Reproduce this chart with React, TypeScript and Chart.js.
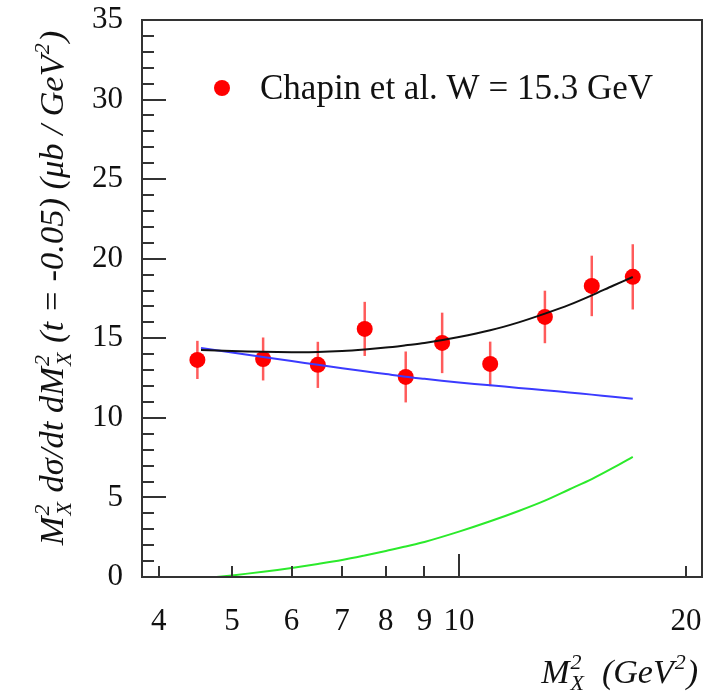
import React, { useEffect, useRef } from 'react';
import { Chart, registerables } from 'chart.js';

Chart.register(...registerables);

// ---- data ----
const pointX = [4.5, 5.5, 6.5, 7.5, 8.5, 9.5, 11, 13, 15, 17];
const pointY = [13.64, 13.7, 13.33, 15.59, 12.57, 14.71, 13.39, 16.34, 18.29, 18.86];
const pointErr = [1.2, 1.35, 1.45, 1.7, 1.6, 1.9, 1.4, 1.65, 1.9, 2.05];

const curveX = [4.55, 5, 5.5, 6, 6.5, 7, 7.5, 8, 8.5, 9, 10, 11, 12, 13, 14, 15, 16, 17];
const totalY = [14.27, 14.2, 14.15, 14.13, 14.14, 14.2, 14.3, 14.42, 14.56, 14.7, 15.08, 15.5, 16.0, 16.55, 17.1, 17.7, 18.3, 18.85];
const blueY = [14.39, 14.1, 13.83, 13.57, 13.33, 13.12, 12.93, 12.75, 12.58, 12.45, 12.22, 12.05, 11.88, 11.74, 11.6, 11.46, 11.33, 11.2];

const greenX = [4.77, 5, 5.5, 6, 6.5, 7, 7.5, 8, 8.5, 9, 10, 11, 12, 13, 14, 15, 16, 17];
const greenY = [0, 0.1, 0.33, 0.57, 0.82, 1.07, 1.35, 1.63, 1.92, 2.2, 2.85, 3.5, 4.15, 4.8, 5.5, 6.15, 6.85, 7.55];

const xTicks = [4, 5, 6, 7, 8, 9, 10, 20];
const xMajor = [10];
const yTicks = [0, 5, 10, 15, 20, 25, 30, 35];
const yMinorStep = 1;
const legendLabel = 'Chapin et al. W = 15.3 GeV';

const SERIF = '"Liberation Serif", "Times New Roman", serif';

type Part = { t: string } | { sup: string; sub: string };

const xTitle: Part[] = [{ t: 'M' }, { sup: '2', sub: 'X' }, { t: '  (GeV' }, { sup: '2', sub: '' }, { t: ')' }];
const yTitle: Part[] = [
  { t: 'M' }, { sup: '2', sub: 'X' }, { t: ' dσ/dt dM' }, { sup: '2', sub: 'X' },
  { t: ' (t = -0.05) (μb / GeV' }, { sup: '2', sub: '' }, { t: ')' },
];

function drawRich(ctx: CanvasRenderingContext2D, parts: Part[], x: number, y: number, size: number, align: 'left' | 'right' | 'center') {
  const main = `italic ${size}px ${SERIF}`;
  const small = `italic ${Math.round(size * 0.64)}px ${SERIF}`;
  const widths = parts.map((p) => {
    if ('t' in p) { ctx.font = main; return ctx.measureText(p.t).width; }
    ctx.font = small;
    return Math.max(ctx.measureText(p.sup).width, ctx.measureText(p.sub).width) + 2;
  });
  const total = widths.reduce((a, b) => a + b, 0);
  let cx = align === 'right' ? x - total : align === 'center' ? x - total / 2 : x;
  ctx.textAlign = 'left';
  ctx.textBaseline = 'alphabetic';
  parts.forEach((p, i) => {
    if ('t' in p) { ctx.font = main; ctx.fillText(p.t, cx, y); }
    else {
      ctx.font = small;
      ctx.fillText(p.sup, cx + 1, y - size * 0.4);
      ctx.fillText(p.sub, cx + 1, y + size * 0.22);
    }
    cx += widths[i];
  });
}

const decorPlugin = {
  id: 'decor',
  beforeDatasetsDraw(chart: any) {
    const { ctx, scales } = chart;
    const xs = scales.x, ys = scales.y;
    ctx.save();
    ctx.strokeStyle = 'rgba(255,50,50,0.8)';
    ctx.lineWidth = 2.5;
    pointX.forEach((x, i) => {
      const px = xs.getPixelForValue(x);
      ctx.beginPath();
      ctx.moveTo(px, ys.getPixelForValue(pointY[i] - pointErr[i]));
      ctx.lineTo(px, ys.getPixelForValue(pointY[i] + pointErr[i]));
      ctx.stroke();
    });
    ctx.restore();
  },
  afterDraw(chart: any) {
    const { ctx, chartArea: a, scales } = chart;
    const xs = scales.x, ys = scales.y;
    ctx.save();
    ctx.strokeStyle = '#333';
    ctx.lineWidth = 2;
    ctx.strokeRect(a.left, a.top, a.right - a.left, a.bottom - a.top);
    // y ticks
    for (let v = ys.min; v <= ys.max + 1e-9; v += yMinorStep) {
      const py = Math.round(ys.getPixelForValue(v));
      const len = yTicks.includes(v) ? 24 : 12;
      ctx.beginPath();
      ctx.moveTo(a.left, py);
      ctx.lineTo(a.left + len, py);
      ctx.stroke();
    }
    // x ticks
    xTicks.forEach((v) => {
      const px = Math.round(xs.getPixelForValue(v));
      const len = xMajor.includes(v) ? 23 : 11;
      ctx.beginPath();
      ctx.moveTo(px, a.bottom);
      ctx.lineTo(px, a.bottom - len);
      ctx.stroke();
    });
    // legend
    ctx.fillStyle = '#ff0000';
    ctx.beginPath();
    ctx.arc(222, 88, 8, 0, Math.PI * 2);
    ctx.fill();
    ctx.fillStyle = '#111';
    ctx.font = `35px ${SERIF}`;
    ctx.textAlign = 'left';
    ctx.textBaseline = 'alphabetic';
    ctx.fillText(legendLabel, 260, 99);
    // x title
    drawRich(ctx, xTitle, 698, 683, 34, 'right');
    // y title
    ctx.save();
    ctx.translate(63, 288);
    ctx.rotate(-Math.PI / 2);
    drawRich(ctx, yTitle, 0, 0, 34.5, 'center');
    ctx.restore();
    ctx.restore();
  },
};

const zeroPad = (s: any) => { s.paddingTop = 0; s.paddingBottom = 0; s.paddingLeft = 0; s.paddingRight = 0; };

export default function App() {
  const ref = useRef<HTMLCanvasElement>(null);
  useEffect(() => {
    if (!ref.current) return;
    const font = { family: SERIF, size: 31 };
    const chart = new Chart(ref.current, {
      type: 'scatter',
      data: {
        datasets: [
          {
            label: 'total',
            data: curveX.map((x, i) => ({ x, y: totalY[i] })),
            showLine: true, borderColor: '#111', borderWidth: 2, pointRadius: 0, tension: 0.3, order: 1,
          },
          {
            label: 'blue',
            data: curveX.map((x, i) => ({ x, y: blueY[i] })),
            showLine: true, borderColor: '#3b3bff', borderWidth: 2, pointRadius: 0, tension: 0.3, order: 2,
          },
          {
            label: 'green',
            data: greenX.map((x, i) => ({ x, y: greenY[i] })),
            showLine: true, borderColor: '#2bea2b', borderWidth: 2, pointRadius: 0, tension: 0.3, order: 3,
          },
          {
            label: legendLabel,
            data: pointX.map((x, i) => ({ x, y: pointY[i] })),
            backgroundColor: '#ff0000', borderColor: '#ff0000', pointRadius: 8, pointBorderWidth: 0, order: 4,
          },
        ],
      },
      options: {
        animation: false,
        responsive: false,
        layout: { padding: { top: 20, right: 17, left: 0, bottom: 0 } },
        plugins: { legend: { display: false }, tooltip: { enabled: false } },
        scales: {
          x: {
            type: 'logarithmic', min: 3.8, max: 21,
            grid: { display: false, drawTicks: false }, border: { display: false },
            afterBuildTicks: (s: any) => { s.ticks = xTicks.map((v) => ({ value: v })); },
            afterFit: (s: any) => { s.height = 115; zeroPad(s); },
            ticks: { autoSkip: false, maxRotation: 0, padding: 26, font, color: '#111', callback: (v: any) => String(v) },
          },
          y: {
            type: 'linear', min: 0, max: 35,
            grid: { display: false, drawTicks: false }, border: { display: false },
            afterBuildTicks: (s: any) => { s.ticks = yTicks.map((v) => ({ value: v })); },
            afterFit: (s: any) => { s.width = 142; zeroPad(s); },
            ticks: { padding: 19, font, color: '#111', callback: (v: any) => String(v) },
          },
        },
      },
      plugins: [decorPlugin],
    } as any);
    return () => chart.destroy();
  }, []);
  return (
    <div style={{ position: 'absolute', left: 0, top: 0, width: 719, height: 692, background: '#fff' }}>
      <canvas ref={ref} width={719} height={692} style={{ width: 719, height: 692, display: 'block' }} />
    </div>
  );
}
